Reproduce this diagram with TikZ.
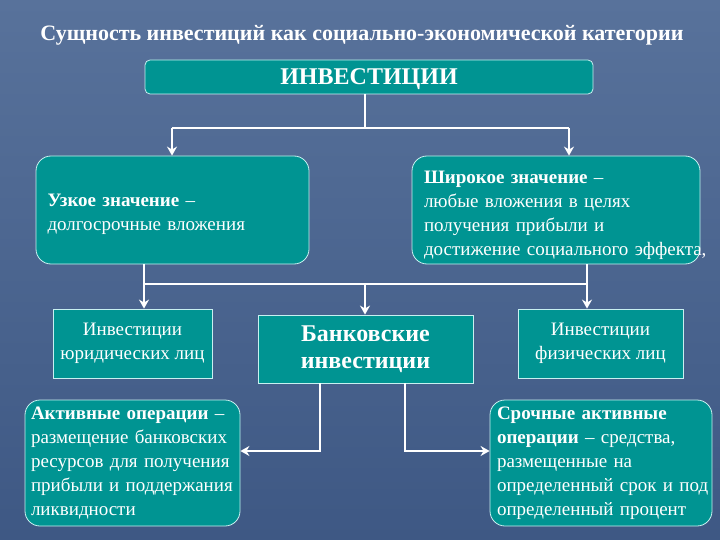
\documentclass[tikz,border=0pt]{standalone}
\usepackage{fontspec}
\setmainfont{Liberation Serif}
\usetikzlibrary{arrows.meta}
\definecolor{tealbox}{RGB}{0,148,146}
\definecolor{bgtop}{RGB}{88,114,155}
\definecolor{bgbot}{RGB}{62,88,132}
\definecolor{edge}{RGB}{200,240,240}
\tikzset{
  box/.style={draw=edge, line width=0.8pt, fill=tealbox, text=white, inner sep=0pt},
  rbox/.style={box, rounded corners=15pt},
  body/.style={font=\fontsize{19}{24}\selectfont},
  conn/.style={draw=white, line width=2.6pt},
  arr/.style={conn, -{Stealth[length=9pt,width=10pt]}},
}
\begin{document}
\begin{tikzpicture}[x=1pt,y=-1pt]
\shade[top color=bgtop, bottom color=bgbot] (0,0) rectangle (720,540);
\useasboundingbox (0,0) rectangle (720,540);

\node[text=white, font=\bfseries\fontsize{22}{26}\selectfont] (title) at (362,35) {Сущность инвестиций как социально-экономической категории};

\node[box, rounded corners=5pt, minimum width=448pt, minimum height=34pt, text depth=0pt, font=\bfseries\fontsize{24}{26}\selectfont] (inv) at (369,77) {ИНВЕСТИЦИИ};

\node[rbox, body, minimum width=273pt, minimum height=108pt, text width=250pt, align=left] (narrow) at (172.5,210) {\rule{0pt}{22pt}\textbf{Узкое значение} –\\долгосрочные вложения};
\node[rbox, body, minimum width=288pt, minimum height=108pt, text width=264pt, align=left] (wide) at (556,210) {\rule{0pt}{24pt}\textbf{Широкое значение} –\\любые вложения в целях\\получения прибыли и\\\mbox{достижение социального эффекта,}};

\node[box, body, minimum width=159pt, minimum height=69pt, align=center] (jur) at (132.5,343.5) {Инвестиции\\юридических лиц};
\node[box, minimum width=215pt, minimum height=68pt, align=center, font=\bfseries\fontsize{24}{27.5}\selectfont] (bank) at (365.5,349) {Банковские\\инвестиции};
\node[box, body, minimum width=165pt, minimum height=69pt, align=center] (fiz) at (600.5,343.5) {Инвестиции\\физических лиц};

\node[rbox, body, minimum width=215pt, minimum height=126pt, text width=203pt, align=left] (act) at (132.5,463) {\mbox{\textbf{Активные операции} –}\\\mbox{размещение банковских}\\\mbox{ресурсов для получения}\\\mbox{прибыли и поддержания}\\ликвидности};
\node[rbox, body, minimum width=222pt, minimum height=126pt, text width=208pt, align=left] (term) at (601,463) {\textbf{Срочные активные}\\\mbox{\textbf{операции} – средства,}\\размещенные на\\\mbox{определенный срок и под}\\определенный процент};

\coordinate (j0) at (365,128);
\coordinate (j1) at (172,128);
\coordinate (j2) at (569,128);
\draw[conn] (inv.south -| j0) -- (j0);
\draw[conn] (j1) -- (j2);
\draw[arr] (j1) -- (j1 |- narrow.north);
\draw[arr] (j2) -- (j2 |- wide.north);

\coordinate (k1) at (144,284);
\coordinate (k0) at (365,284);
\coordinate (k2) at (587,284);
\draw[conn] (k1 |- narrow.south) -- (k1);
\draw[conn] (k2 |- wide.south) -- (k2);
\draw[conn] (k1) -- (k2);
\draw[arr] (k1) -- (k1 |- jur.north);
\draw[arr] (k0) -- (k0 |- bank.north);
\draw[arr] (k2) -- (k2 |- fiz.north);

\coordinate (m1) at (320,451);
\coordinate (m2) at (405,451);
\draw[arr] (m1 |- bank.south) -- (m1) -- (act.east |- m1);
\draw[arr] (m2 |- bank.south) -- (m2) -- (term.west |- m2);
\end{tikzpicture}
\end{document}
